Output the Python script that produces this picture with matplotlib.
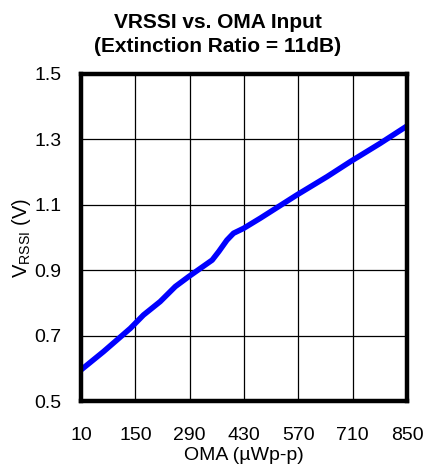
import matplotlib
matplotlib.use("Agg")
import matplotlib.pyplot as plt

oma = [10, 68, 137, 171, 214, 253, 287, 348, 365, 386, 403, 429, 472, 566, 644, 704, 781, 850]
vrssi = [0.595, 0.651, 0.722, 0.763, 0.804, 0.850, 0.880, 0.931, 0.957, 0.992, 1.013, 1.028,
         1.059, 1.130, 1.186, 1.232, 1.288, 1.341]
xticks = [10, 150, 290, 430, 570, 710, 850]
yticks = [0.5, 0.7, 0.9, 1.1, 1.3, 1.5]

plt.rcParams['font.family'] = ['Liberation Sans', 'DejaVu Sans']

fig = plt.figure(figsize=(4.35, 4.74), dpi=100)
ax = fig.add_axes([81/435, 1 - 401/474, 326/435, 327/474])

ax.plot(oma, vrssi, color='#0000ff', lw=4, solid_capstyle='butt', zorder=3)
ax.set_xlim(10, 850)
ax.set_ylim(0.5, 1.5)
ax.set_xticks(xticks)
ax.set_xticklabels([str(t) for t in xticks])
ax.set_yticks(yticks)
ax.set_yticklabels([f"{t:.1f}" for t in yticks])
ax.grid(True, color='black', lw=0.9)
ax.tick_params(length=0, labelsize=14)
ax.tick_params(axis='x', pad=19)
ax.tick_params(axis='y', pad=14)
for s in ax.spines.values():
    s.set_linewidth(3.2)
    s.set_zorder(4)

ax.set_xlabel("OMA (µWp-p)", fontsize=14, labelpad=2)
ax.set_ylabel(r"V$_{\mathregular{RSSI}}$ (V)", fontsize=14.5, labelpad=1)

fig.text(0.5, 1 - 22/474, "VRSSI vs. OMA Input", ha='center', va='center',
         fontsize=15, fontweight='bold')
fig.text(0.5, 1 - 47/474, "(Extinction Ratio = 11dB)", ha='center', va='center',
         fontsize=15, fontweight='bold')

fig.savefig("out.png", dpi=100)
